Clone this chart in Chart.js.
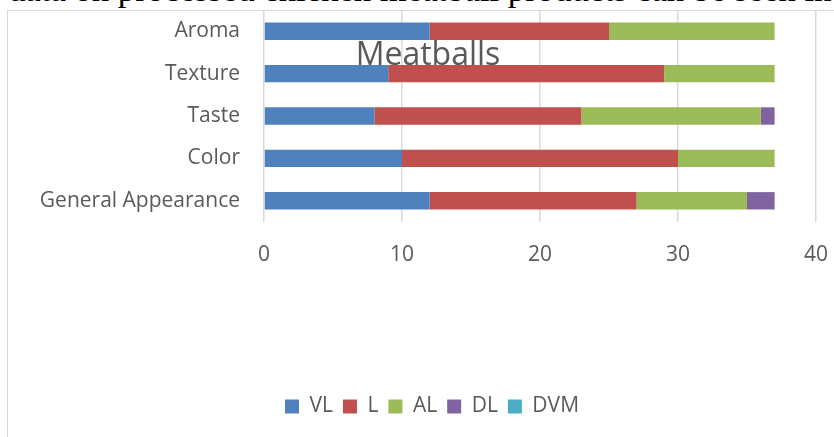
<!DOCTYPE html>
<html>
<head>
<meta charset="utf-8">
<script src="https://cdn.jsdelivr.net/npm/chart.js@4"></script>
<style>
html, body { margin: 0; padding: 0; background: #fff; overflow: hidden; }
#wrap { position: relative; width: 834px; height: 437px; overflow: hidden; }
#doc { position: absolute; left: 8px; top: -27px; font-family: "Liberation Serif"; font-size: 34.7px; line-height: 34.7px; white-space: nowrap; color: #000; }
#frame { position: absolute; left: 7px; top: 10px; width: 860px; height: 460px; border: 1px solid #d9d9d9; }
#title { position: absolute; left: 0; width: 856px; top: 31px; text-align: center; font-family: "Open Sans"; font-size: 32px; color: #595959; z-index: 2; }
canvas { position: absolute; left: 0; top: 0; }
</style>
</head>
<body>
<div id="wrap">
    <div id="doc">data on processed chicken meatball products can be seen in</div>
    <div id="frame"></div>
    <canvas id="chart" width="834" height="437"></canvas>
    <div id="title">Meatballs</div>
</div>
<script>
// 类别和数据
const categories = ['Aroma', 'Texture', 'Taste', 'Color', 'General Appearance'];
const seriesNames = ['VL', 'L', 'AL', 'DL', 'DVM'];
const vlValues = [12, 9, 8, 10, 12];
const lValues = [13, 20, 15, 20, 15];
const alValues = [12, 8, 13, 7, 8];
const dlValues = [0, 0, 1, 0, 2];
const dvmValues = [0, 0, 0, 0, 0];
const xTicks = [0, 10, 20, 30, 40];

const colors = ['#4F81BD', '#C0504D', '#9BBB59', '#8064A2', '#4BACC6'];
const allValues = [vlValues, lValues, alValues, dlValues, dvmValues];

const textColor = '#595959';
const fontName = 'Open Sans';

function initChart() {
    const ctx = document.getElementById('chart').getContext('2d');
    new Chart(ctx, {
        type: 'bar',
        data: {
            labels: categories,
            datasets: seriesNames.map((name, i) => ({
                label: name,
                data: allValues[i],
                backgroundColor: colors[i],
                borderWidth: 0,
                barPercentage: 0.41,
                categoryPercentage: 1
            }))
        },
        options: {
            indexAxis: 'y',
            responsive: false,
            animation: false,
            layout: { padding: { top: 10, right: 0, bottom: 10, left: 30 } },
            scales: {
                x: {
                    stacked: true,
                    min: xTicks[0],
                    max: xTicks[xTicks.length - 1],
                    afterBuildTicks: s => { s.ticks = xTicks.map(v => ({ value: v })); },
                    afterFit: s => {
                        s.height = 164;
                        s.paddingLeft = 0;
                        s.paddingRight = 18;
                    },
                    grid: { color: '#d9d9d9', lineWidth: 1.5, drawTicks: false },
                    border: { display: false },
                    ticks: { color: textColor, font: { family: fontName, size: 21 }, padding: 20 }
                },
                y: {
                    stacked: true,
                    afterFit: s => {
                        s.width = 234;
                        s.paddingTop = 0;
                        s.paddingBottom = 0;
                    },
                    grid: { display: false },
                    border: { display: false },
                    ticks: { color: textColor, font: { family: fontName, size: 21 }, padding: 16 }
                }
            },
            plugins: {
                legend: {
                    position: 'bottom',
                    labels: {
                        color: textColor,
                        font: { family: fontName, size: 21 },
                        boxWidth: 14,
                        boxHeight: 14,
                        padding: 10
                    }
                },
                tooltip: { enabled: false }
            }
        }
    });
}

document.addEventListener('DOMContentLoaded', initChart);
</script>
</body>
</html>
